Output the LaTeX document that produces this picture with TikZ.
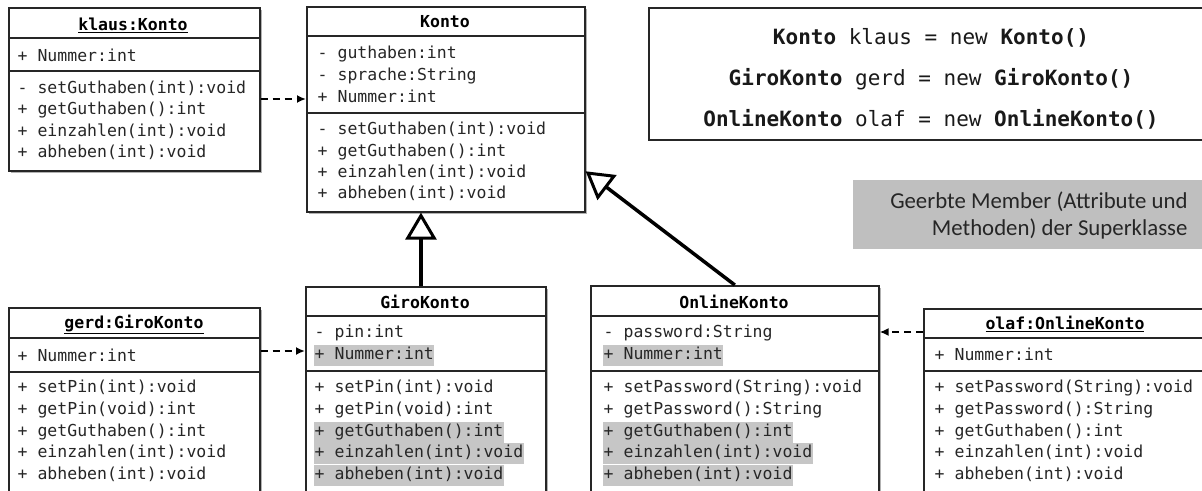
\documentclass[tikz,border=0pt]{standalone}
\usepackage{fontspec}
\setmonofont{DejaVu Sans Mono}
\newfontfamily\notefont{Carlito}
\usetikzlibrary{arrows.meta, shadows, calc}

\definecolor{inherited}{RGB}{198,198,198}
\definecolor{notegray}{RGB}{191,191,191}

\tikzset{
	classbox/.style={draw=black!85, line width=1.6pt, fill=white, anchor=north west, inner sep=0pt,
		drop shadow={shadow xshift=2.5pt, shadow yshift=-2.5pt, opacity=0.3, fill=black}},
	row/.style={anchor=west, font=\ttfamily\fontsize{16.5}{20}\selectfont, text=black!85,
		text height=14pt, text depth=5pt, inner xsep=0.5pt, inner ysep=1pt},
	inh/.style={row, fill=inherited},
	head/.style={font=\ttfamily\bfseries\fontsize{16.5}{20}\selectfont},
	sep/.style={line width=1.6pt, black!85},
	dep/.style={line width=2pt, dash pattern=on 7pt off 5pt, -{Latex[length=9pt,width=8pt]}},
	isa/.style={line width=3.5pt, -{Triangle[fill=white, length=27pt, width=31pt, line width=3pt]}}
}

\begin{document}
\begin{tikzpicture}[x=1pt, y=-1pt]

\useasboundingbox (0,0) rectangle (1202,490);
\clip (0,0) rectangle (1202,490);
\fill[white] (0,0) rectangle (1202,490);

%Boxes
\node[classbox, minimum width=251pt, minimum height=163pt] (klaus) at (8,7) {};
\node[classbox, minimum width=278pt, minimum height=205pt] (Konto) at (306,6) {};
\node[classbox, minimum width=240pt, minimum height=220pt] (giro) at (305,286) {};
\node[classbox, minimum width=288pt, minimum height=220pt] (online) at (590,285) {};
\node[classbox, minimum width=251pt, minimum height=200pt] (gerd) at (8,307) {};
\node[classbox, minimum width=290pt, minimum height=200pt] (olaf) at (923,308) {};

%Compartments
\draw[sep] (klaus.west |- 0,38) -- (klaus.east |- 0,38);
\draw[sep] (klaus.west |- 0,71) -- (klaus.east |- 0,71);
\draw[sep] (Konto.west |- 0,36) -- (Konto.east |- 0,36);
\draw[sep] (Konto.west |- 0,113) -- (Konto.east |- 0,113);
\draw[sep] (giro.west |- 0,316) -- (giro.east |- 0,316);
\draw[sep] (giro.west |- 0,371) -- (giro.east |- 0,371);
\draw[sep] (online.west |- 0,316) -- (online.east |- 0,316);
\draw[sep] (online.west |- 0,371) -- (online.east |- 0,371);
\draw[sep] (gerd.west |- 0,338) -- (gerd.east |- 0,338);
\draw[sep] (gerd.west |- 0,372) -- (gerd.east |- 0,372);
\draw[sep] (olaf.west |- 0,338) -- (olaf.east |- 0,338);
\draw[sep] (olaf.west |- 0,371) -- (olaf.east |- 0,371);

%Headers
\node[head] (klaus-head) at (133,25) {\underline{klaus:Konto}};
\node[head] (Konto-head) at (445,22) {Konto};
\node[head] (giro-head) at (425,302) {GiroKonto};
\node[head] (online-head) at (734,302) {OnlineKonto};
\node[head] (gerd-head) at (134,324) {\underline{gerd:GiroKonto}};
\node[head] (olaf-head) at (1065,324) {\underline{olaf:OnlineKonto}};

%Rows
\foreach \y/\t [count=\i] in {57/{+ Nummer:int}, 89/{- setGuthaben(int):void}, 110/{+ getGuthaben():int},
	132/{+ einzahlen(int):void}, 153/{+ abheben(int):void}}
	\node[row] (klaus-\i) at (17,\y) {\t};

\foreach \y/\t [count=\i] in {54/{- guthaben:int}, 76/{- sprache:String}, 98/{+ Nummer:int},
	130/{- setGuthaben(int):void}, 152/{+ getGuthaben():int}, 173/{+ einzahlen(int):void}, 194/{+ abheben(int):void}}
	\node[row] (Konto-\i) at (317,\y) {\t};

\foreach \y/\t [count=\i] in {333/{- pin:int}, 388/{+ setPin(int):void}, 410/{+ getPin(void):int}}
	\node[row] (giro-\i) at (314,\y) {\t};
\foreach \y/\t [count=\i] in {355/{+ Nummer:int}, 432/{+ getGuthaben():int}, 453/{+ einzahlen(int):void},
	475/{+ abheben(int):void}}
	\node[inh] (giro-inh-\i) at (314,\y) {\t};

\foreach \y/\t [count=\i] in {333/{- password:String}, 388/{+ setPassword(String):void}, 410/{+ getPassword():String}}
	\node[row] (online-\i) at (603,\y) {\t};
\foreach \y/\t [count=\i] in {355/{+ Nummer:int}, 432/{+ getGuthaben():int}, 453/{+ einzahlen(int):void},
	475/{+ abheben(int):void}}
	\node[inh] (online-inh-\i) at (603,\y) {\t};

\foreach \y/\t [count=\i] in {357/{+ Nummer:int}, 388/{+ setPin(int):void}, 410/{+ getPin(void):int},
	432/{+ getGuthaben():int}, 453/{+ einzahlen(int):void}, 475/{+ abheben(int):void}}
	\node[row] (gerd-\i) at (17,\y) {\t};

\foreach \y/\t [count=\i] in {356/{+ Nummer:int}, 388/{+ setPassword(String):void}, 410/{+ getPassword():String},
	432/{+ getGuthaben():int}, 453/{+ einzahlen(int):void}, 475/{+ abheben(int):void}}
	\node[row] (olaf-\i) at (934,\y) {\t};

%Arrows
\coordinate (klausdep) at (0,99);
\coordinate (gerddep) at (0,351);
\coordinate (olafdep) at (0,332);
\draw[dep] (klaus.east |- klausdep) -- (Konto.west |- klausdep);
\draw[dep] (gerd.east |- gerddep) -- (giro.west |- gerddep);
\draw[dep] (olaf.west |- olafdep) -- (online.east |- olafdep);

\coordinate (girotop) at ($(giro.north west)!0.48!(giro.north east)$);
\coordinate (kontoside) at ($(Konto.north east)!0.8!(Konto.south east)$);
\draw[isa] (girotop) -- (girotop |- Konto.south);
\draw[isa] (online.north) -- (kontoside);

%Code
\node[draw=black!85, line width=1.6pt, anchor=north west, minimum width=564pt, minimum height=132pt] (code) at (648,7) {};
\foreach \y/\t [count=\i] in {38/{\textbf{Konto} klaus = new \textbf{Konto()}},
	79/{\textbf{GiroKonto} gerd = new \textbf{GiroKonto()}},
	119/{\textbf{OnlineKonto} olaf = new \textbf{OnlineKonto()}}}
	\node[font=\ttfamily\fontsize{21}{25}\selectfont, text=black!90] (code-\i) at (931,\y) {\t};

%Note
\node[fill=notegray, anchor=north west, minimum width=360pt, minimum height=69pt, inner sep=0pt] (notebox) at (853,180) {};
\node[anchor=east, align=right, font=\notefont\fontsize{22.8}{27}\selectfont, text=black!85] (note) at (1191,216)
	{Geerbte Member (Attribute und\\Methoden) der Superklasse};

\end{tikzpicture}
\end{document}
